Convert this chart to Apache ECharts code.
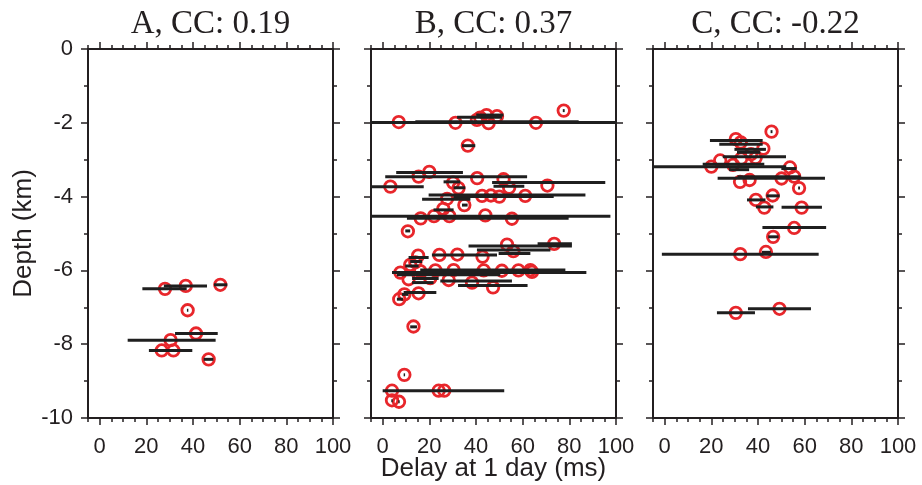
<!DOCTYPE html>
<html>
<head>
<meta charset="utf-8">
<script src="https://cdn.jsdelivr.net/npm/echarts@6/dist/echarts.min.js"></script>
<style>
html,body{margin:0;padding:0;background:#fff;}
#chart{width:922px;height:485px;}
</style>
</head>
<body>
<div id="chart"></div>
<script>
// ---------- DATA ----------
const panelTitles = ['A, CC: 0.19', 'B, CC: 0.37', 'C, CC: -0.22'];
const xTickLabels = [0, 20, 40, 60, 80, 100];
const xMinorTicks = [-5, 5, 10, 15, 25, 30, 35, 45, 50, 55, 65, 70, 75, 85, 90, 95];

// Panel A: circles (delay ms, depth km)
const aDelay = [28.0, 36.9, 51.7, 37.7, 41.3, 30.4, 26.6, 31.6, 46.7];
const aDepth = [-6.50, -6.42, -6.39, -7.08, -7.71, -7.89, -8.17, -8.17, -8.41];
// Panel A: error bars (depth, low, high)
const aBarDepth = [-6.50, -6.42, -6.39, -7.08, -7.71, -7.89, -8.17, -8.41];
const aBarLo    = [18.3, 27.5, 49.0, 37.4, 32.3, 12.0, 21.1, 44.6];
const aBarHi    = [37.3, 46.0, 54.7, 38.0, 50.6, 49.7, 39.7, 48.7];

// Panel B: circles
const bDelay = [6.9, 31.2, 41.8, 44.5, 49.0, 45.4, 40.4, 65.7, 77.6, 36.5,
  20.0, 15.4, 3.3, 30.2, 32.5, 40.5, 51.8, 54.2, 70.6, 42.6, 46.4, 50.0, 61.1, 27.6, 35.0, 26.0,
  16.3, 22.0, 28.6, 44.0, 55.4, 10.8,
  73.5, 53.3, 56.0, 15.2, 24.3, 32.0, 42.8, 11.8, 14.0,
  7.6, 16.1, 22.6, 30.4, 43.3, 51.1, 58.2, 63.3, 64.0,
  11.1, 20.4, 28.3, 38.3, 47.3, 15.4, 9.3, 7.1, 13.2,
  9.3, 4.0, 24.0, 26.4, 4.0, 7.0];
const bDepth = [-1.98, -2.00, -1.86, -1.79, -1.82, -2.01, -1.92, -2.00, -1.67, -2.62,
  -3.33, -3.46, -3.73, -3.62, -3.77, -3.50, -3.53, -3.76, -3.70, -3.98, -3.97, -4.00, -3.98, -4.06, -4.23, -4.33,
  -4.59, -4.53, -4.53, -4.51, -4.60, -4.94,
  -5.28, -5.30, -5.48, -5.60, -5.58, -5.57, -5.63, -5.85, -5.78,
  -6.06, -6.02, -6.00, -5.99, -6.00, -6.01, -6.00, -5.99, -6.04,
  -6.24, -6.21, -6.26, -6.33, -6.46, -6.62, -6.65, -6.78, -7.52,
  -8.83, -9.26, -9.26, -9.26, -9.52, -9.56];
// Panel B: error bars
const bBarDepth = [-1.67, -1.79, -1.85, -1.97, -1.99, -2.62,
  -3.35, -3.46, -3.60, -3.62, -3.72, -3.73, -3.76, -3.96, -4.00, -4.07, -4.23, -4.36, -4.53, -4.59, -4.93,
  -5.28, -5.34, -5.45, -5.54, -5.58, -5.65, -5.76, -5.88, -5.99, -6.06, -6.12, -6.22, -6.29, -6.33, -6.41,
  -6.60, -6.65, -6.78, -7.53, -8.83, -9.26, -9.53, -9.56];
const bBarLo = [77.2, 40.1, 31.9, 14.0, -45.0, 34.0,
  5.8, 1.1, 26.1, 46.9, 47.5, -11.0, 30.4, 19.7, 30.4, 16.9, 34.0, 21.8, -9.6, 10.4, 9.7,
  66.4, 36.8, 40.4, 49.7, 21.1, 11.1, 11.8, 9.7, 16.1, 4.0, 6.1, 12.6, 24.7, 12.6, 32.3,
  9.0, 8.3, 6.1, 11.8, 9.0, 0.0, 3.7, 6.7];
const bBarHi = [78.0, 51.8, 51.1, 84.0, 110.0, 39.7,
  34.4, 61.9, 33.3, 95.4, 60.7, 17.6, 35.4, 86.9, 73.3, 37.6, 36.4, 30.4, 97.6, 79.7, 11.8,
  81.1, 81.1, 71.9, 63.3, 49.0, 19.7, 16.9, 15.4, 78.3, 87.3, 50.4, 24.0, 55.4, 21.8, 62.1,
  23.0, 11.1, 8.7, 14.7, 9.6, 52.1, 4.3, 7.3];

// Panel C: circles
const cDelay = [45.8, 30.5, 32.6, 42.3, 37.0, 32.8, 39.0, 23.8, 20.0, 29.3, 53.7, 50.1, 55.5,
  32.3, 36.4, 57.6, 46.3, 39.1, 42.7, 58.7, 55.5, 46.5, 43.4, 32.4, 49.2, 30.5];
const cDepth = [-2.24, -2.44, -2.53, -2.70, -2.85, -2.97, -2.95, -3.02, -3.19, -3.14, -3.21, -3.51, -3.46,
  -3.60, -3.55, -3.77, -3.97, -4.09, -4.30, -4.30, -4.85, -5.09, -5.50, -5.56, -7.04, -7.15];
// Panel C: error bars
const cBarDepth = [-2.24, -2.48, -2.58, -2.72, -2.80, -2.92, -3.12, -3.19, -3.24, -3.27, -3.46, -3.50,
  -3.77, -3.98, -4.09, -4.28, -4.29, -4.84, -5.09, -5.51, -5.56, -7.04, -7.15];
const cBarLo = [45.4, 19.4, 23.4, 29.9, 31.0, 24.9, 16.3, -12.0, 50.0, 27.6, 31.2, 22.7,
  57.2, 43.6, 35.3, 39.1, 50.1, 41.9, 44.4, 41.7, -1.2, 35.7, 22.4];
const cBarHi = [46.2, 42.0, 42.0, 43.4, 41.0, 52.0, 42.7, 52.1, 56.5, 36.2, 58.3, 68.7,
  58.0, 49.3, 43.2, 46.6, 67.4, 69.2, 48.8, 45.5, 66.0, 62.7, 38.7];

// ---------- CHART ----------
const panels = [
  {delay: aDelay, depth: aDepth, bd: aBarDepth, bl: aBarLo, bh: aBarHi},
  {delay: bDelay, depth: bDepth, bd: bBarDepth, bl: bBarLo, bh: bBarHi},
  {delay: cDelay, depth: cDepth, bd: cBarDepth, bl: cBarLo, bh: cBarHi}
];
const gridLefts = [88, 371, 653];
const gridTop = 49, gridW = 245, gridH = 369;
const ink = '#231f20';
const sans = 'Liberation Sans, Arial, sans-serif';

const grids = [], xAxes = [], yAxes = [], series = [], graphics = [];
panels.forEach((p, gi) => {
  grids.push({left: gridLefts[gi], top: gridTop, width: gridW, height: gridH, outerBoundsMode: 'none', containLabel: false});
  const baseX = {gridIndex: gi, type: 'value', min: -5, max: 100, splitLine: {show: false}};
  const lineOn = {show: true, onZero: false, lineStyle: {color: ink, width: 2}};
  ['bottom', 'top'].forEach(pos => {
    xAxes.push(Object.assign({}, baseX, {
      position: pos,
      axisLine: lineOn,
      axisTick: {show: true, customValues: xTickLabels, length: 7, lineStyle: {color: ink, width: 1.5}},
      axisLabel: pos === 'bottom'
        ? {show: true, customValues: xTickLabels, fontSize: 22, color: ink, fontFamily: sans, margin: 18}
        : {show: false},
      name: (pos === 'bottom' && gi === 1) ? 'Delay at 1 day (ms)' : '',
      nameLocation: 'middle', nameGap: 38, nameMoveOverlap: false,
      nameTextStyle: {fontSize: 26, color: ink, fontFamily: sans}
    }));
    xAxes.push(Object.assign({}, baseX, {
      position: pos,
      axisLine: {show: false, onZero: false},
      axisTick: {show: true, customValues: xMinorTicks, length: 4, lineStyle: {color: ink, width: 1.5}},
      axisLabel: {show: false}
    }));
  });
  ['left', 'right'].forEach(pos => {
    yAxes.push({
      gridIndex: gi, type: 'value', min: -10, max: 0, interval: 2, position: pos,
      splitLine: {show: false},
      axisLine: lineOn,
      axisTick: {show: true, length: 7, lineStyle: {color: ink, width: 1.5}},
      minorTick: {show: true, splitNumber: 2, length: 4, lineStyle: {color: ink, width: 1.5}},
      axisLabel: (pos === 'left' && gi === 0)
        ? {show: true, fontSize: 22, color: ink, fontFamily: sans, margin: 15}
        : {show: false},
      name: (pos === 'left' && gi === 0) ? 'Depth (km)' : '',
      nameLocation: 'middle', nameGap: 51, nameMoveOverlap: false,
      nameTextStyle: {fontSize: 26, color: ink, fontFamily: sans}
    });
  });
  const xi = gi * 4, yi = gi * 2;
  series.push({
    type: 'scatter', xAxisIndex: xi, yAxisIndex: yi, z: 2,
    symbol: 'circle', symbolSize: 11.5,
    itemStyle: {color: 'rgba(0,0,0,0)', borderColor: '#e8262b', borderWidth: 2.8, opacity: 1},
    emphasis: {disabled: true}, silent: true,
    data: p.delay.map((d, i) => [d, p.depth[i]])
  });
  series.push({
    type: 'custom', xAxisIndex: xi, yAxisIndex: yi, z: 3, clip: true, silent: true,
    encode: {x: [1, 2], y: 0},
    data: p.bd.map((d, i) => [d, p.bl[i], p.bh[i]]),
    renderItem: (params, api) => {
      const a = api.coord([api.value(1), api.value(0)]);
      const b = api.coord([api.value(2), api.value(0)]);
      return {type: 'line', shape: {x1: a[0], y1: a[1], x2: b[0], y2: b[1]},
        style: {stroke: '#1f1f1f', lineWidth: 3}};
    }
  });
  graphics.push({
    type: 'text', x: gridLefts[gi] + gridW / 2, y: 24,
    style: {text: panelTitles[gi], fill: ink, font: '33px "Liberation Serif", "Times New Roman", serif',
      textAlign: 'center', textVerticalAlign: 'middle'}
  });
});

const chart = echarts.init(document.getElementById('chart'), null, {renderer: 'canvas'});
chart.setOption({
  animation: false,
  backgroundColor: '#fff',
  grid: grids, xAxis: xAxes, yAxis: yAxes, series: series,
  graphic: graphics
});
</script>
</body>
</html>
